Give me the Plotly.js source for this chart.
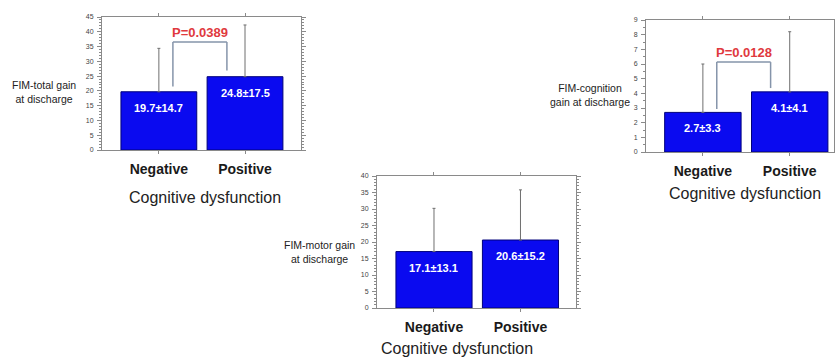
<!DOCTYPE html>
<html><head><meta charset="utf-8">
<script src="https://cdn.plot.ly/plotly-3.0.1.min.js"></script>
<style>html,body{margin:0;padding:0;background:#fff;}#chart{width:835px;height:358px;}</style>
</head><body><div id="chart"></div>
<script>
// ---- data ----
const categories = ['Negative', 'Positive'];
const totalMean = [19.7, 24.8];
const totalSD = [14.7, 17.5];
const cognitionMean = [2.7, 4.1];
const cognitionSD = [3.3, 4.1];
const motorMean = [17.1, 20.6];
const motorSD = [13.1, 15.2];
const pTotal = 'P=0.0389';
const pCognition = 'P=0.0128';
const xTitle = 'Cognitive dysfunction';
const yTitleTotal = 'FIM-total gain<br>at discharge';
const yTitleCognition = 'FIM-cognition<br>gain at discharge';
const yTitleMotor = 'FIM-motor gain<br>at discharge';

// ---- layout helpers (pixel -> paper) ----
const W = 835, H = 358;
const px = v => v / W;
const py = v => 1 - v / H;
const FONT = 'Liberation Sans, Arial, sans-serif';
const BAR = '#0a0af0', BAR_LINE = '#00007a', GRAY = '#8a8a8a', BRACKET = '#8594aa', PRED = '#e0393e';

const panels = [
  {mean: totalMean, sd: totalSD, x: [102, 301], y: [17, 150], range: [0, 45], dtick: 5, minor: 1, xr: [-0.66, 1.65], ytitle: yTitleTotal, yt: [44, 92], xt: [205, 197],
   p: pTotal, br: {l: 21.5, top: 36.5, r: 26.9, x0: 0.163, x1: 0.79}},
  {mean: cognitionMean, sd: cognitionSD, x: [646, 834], y: [20, 152], range: [0, 9], dtick: 1, minor: 0.5, xr: [-0.655, 1.51], ytitle: yTitleCognition, yt: [590, 95], xt: [745, 193],
   p: pCognition, br: {l: 2.93, top: 6.13, r: 4.36, x0: 0.16, x1: 0.78}},
  {mean: motorMean, sd: motorSD, x: [377, 576], y: [176, 308], range: [0, 40], dtick: 5, minor: 1, xr: [-0.659, 1.642], ytitle: yTitleMotor, yt: [319, 252], xt: [457, 348],
   p: null}
];

const data = [];
const layout = {
  width: W, height: H, margin: {l: 0, r: 0, t: 0, b: 0},
  paper_bgcolor: '#fff', plot_bgcolor: '#fff', showlegend: false,
  font: {family: FONT}, annotations: [], shapes: [], bargap: 0
};

panels.forEach((p, i) => {
  const n = i === 0 ? '' : String(i + 1);
  data.push({
    type: 'bar', x: categories, y: p.mean, xaxis: 'x' + n, yaxis: 'y' + n,
    width: 0.88,
    marker: {color: BAR, line: {color: BAR_LINE, width: 1}},
    error_y: {type: 'data', array: p.sd, arrayminus: p.sd.map(() => 0), symmetric: false,
              color: '#6f6f6f', thickness: 1, width: 1.5},
    hoverinfo: 'none'
  });
  layout['xaxis' + n] = {
    domain: [px(p.x[0]), px(p.x[1])], anchor: 'y' + n, type: 'category',
    range: p.xr, showgrid: false, zeroline: false,
    showline: true, linecolor: GRAY, linewidth: 1, mirror: 'ticks',
    ticks: 'outside', ticklen: 3, tickcolor: GRAY,
    tickvals: categories, ticktext: categories.map(c => '<b>' + c + '</b>'),
    tickfont: {family: FONT, size: 14, color: '#1a1a1a'}, ticklabelstandoff: 3
  };
  layout['yaxis' + n] = {
    domain: [py(p.y[1]), py(p.y[0])], anchor: 'x' + n,
    range: p.range, dtick: p.dtick, showgrid: false, zeroline: false,
    showline: true, linecolor: GRAY, linewidth: 1, mirror: 'ticks',
    ticks: 'outside', ticklen: 4, tickcolor: GRAY,
    minor: {dtick: p.minor, ticks: 'outside', ticklen: 2, tickcolor: GRAY, showgrid: false},
    tickfont: {family: FONT, size: 7, color: '#444'}, ticklabelstandoff: 2
  };
  // value labels inside bars
  p.mean.forEach((m, k) => {
    layout.annotations.push({
      xref: 'x' + n, yref: 'y' + n, x: k, y: m, yanchor: 'top', yshift: -8,
      text: '<b>' + m.toFixed(1) + '±' + p.sd[k].toFixed(1) + '</b>', showarrow: false,
      font: {family: FONT, size: 11, color: '#fff'}
    });
  });
  // y title
  layout.annotations.push({xref: 'paper', yref: 'paper', x: px(p.yt[0]), y: py(p.yt[1]),
    text: p.ytitle, showarrow: false, xanchor: 'center', yanchor: 'middle',
    font: {family: FONT, size: 10.5, color: '#222'}, align: 'center'});
  // x title
  layout.annotations.push({xref: 'paper', yref: 'paper', x: px(p.xt[0]), y: py(p.xt[1]),
    text: xTitle, showarrow: false, xanchor: 'center', yanchor: 'middle',
    font: {family: FONT, size: 16, color: '#222'}});
  // significance bracket
  if (p.p) {
    const b = p.br, xr = 'x' + n, yr = 'y' + n;
    const ln = {color: BRACKET, width: 1.5};
    layout.shapes.push({type: 'line', xref: xr, yref: yr, x0: b.x0, x1: b.x0, y0: b.l, y1: b.top, line: ln});
    layout.shapes.push({type: 'line', xref: xr, yref: yr, x0: b.x0, x1: b.x1, y0: b.top, y1: b.top, line: ln});
    layout.shapes.push({type: 'line', xref: xr, yref: yr, x0: b.x1, x1: b.x1, y0: b.top, y1: b.r, line: ln});
    layout.annotations.push({xref: xr, yref: yr, x: (b.x0 + b.x1) / 2, y: b.top, yanchor: 'bottom', yshift: 0,
      text: '<b>' + p.p + '</b>', showarrow: false, font: {family: FONT, size: 13, color: PRED}});
  }
});

Plotly.newPlot('chart', data, layout, {staticPlot: true, displayModeBar: false});
</script></body></html>
